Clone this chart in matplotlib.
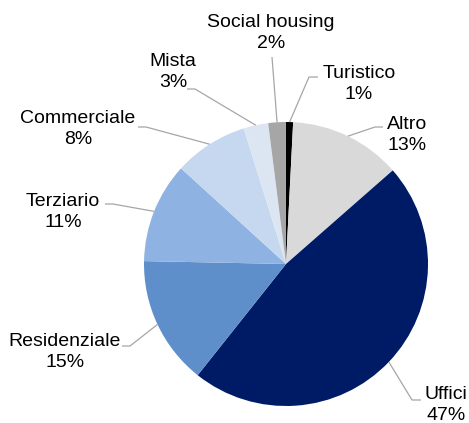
import numpy as np
import matplotlib.pyplot as plt

plt.rcParams['font.family'] = ['Liberation Sans', 'DejaVu Sans']

# quote per destinazione d'uso (in senso orario dalle ore 12)
categorie = ['Turistico', 'Altro', 'Uffici', 'Residenziale', 'Terziario',
             'Commerciale', 'Mista', 'Social housing']
valori = [0.8, 12.7, 47.0, 14.6, 11.4, 8.4, 2.8, 2.0]
colori = ['#000000', '#D9D9D9', '#001B66', '#5F8FCA', '#8EB3E2',
          '#C5D8F0', '#DCE6F2', '#A6A6A6']

W, H = 469, 423
cx, cy, R = 286, 264, 142

def py(y):
    # coordinate pixel (dall'alto) -> coordinate dati
    return H - y

# posizione etichetta (centro) e punto di attacco della linea, in pixel
testo_xy = {
    'Turistico': (359, 84), 'Altro': (407, 135), 'Uffici': (446, 405),
    'Residenziale': (65, 352), 'Terziario': (63, 212),
    'Commerciale': (78, 129), 'Mista': (173, 72), 'Social housing': (271, 33),
}
linea_xy = {
    'Turistico': ((318, 77), (309, 77)), 'Altro': ((383, 127), (375, 127)),
    'Uffici': ((421, 400), (412, 400)), 'Residenziale': ((122, 346), (130, 346)),
    'Terziario': ((105, 204), (113, 204)), 'Commerciale': ((138, 127), (146, 127)),
    'Mista': ((187, 89), (195, 89)), 'Social housing': ((272, 57), (272, 57)),
}

fig = plt.figure(figsize=(W / 100, H / 100), dpi=100)
ax = fig.add_axes([0, 0, 1, 1])

wedges, _ = ax.pie(valori, colors=colori, startangle=90, counterclock=False,
                   center=(cx, py(cy)), radius=R,
                   wedgeprops=dict(linewidth=0))

tot = sum(valori)
for w, nome, v in zip(wedges, categorie, valori):
    mid = np.deg2rad((w.theta1 + w.theta2) / 2)
    ax_x = cx + R * np.cos(mid)
    ax_y = py(cy) + R * np.sin(mid)
    (ex, ey), (gx, gy) = linea_xy[nome]
    ax.plot([ex, gx, ax_x], [py(ey), py(gy), ax_y], color='#A6A6A6', lw=0.9,
            solid_capstyle='butt')
    tx, ty = testo_xy[nome]
    ax.text(tx, py(ty), f"{nome}\n{round(v / tot * 100)}%", ha='center',
            va='center', multialignment='center', fontsize=14,
            color='#000000', linespacing=1.25)

ax.set_xlim(0, W)
ax.set_ylim(0, H)
ax.axis('off')

fig.savefig('out.png', dpi=100)
